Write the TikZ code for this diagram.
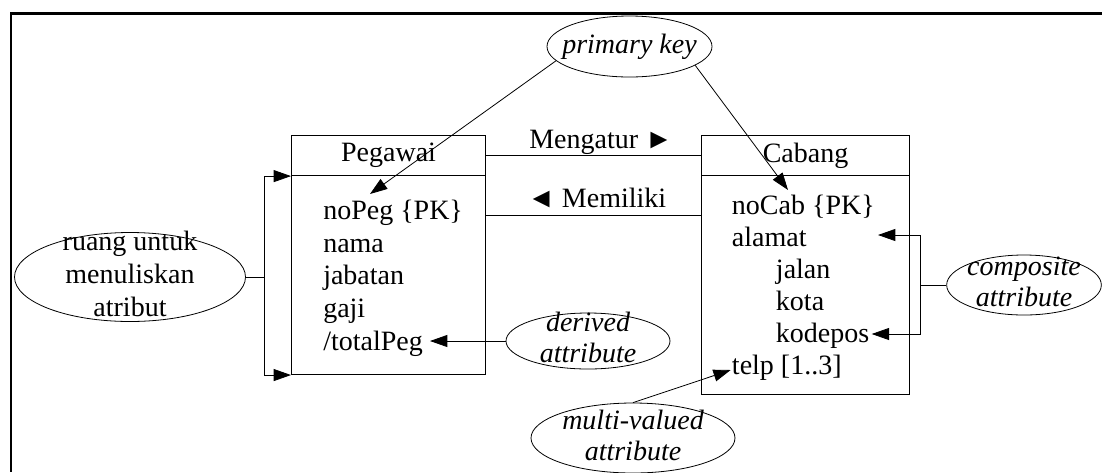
\documentclass[tikz,border=0pt]{standalone}
\usepackage{fontspec}
\setmainfont{Liberation Serif}
\usetikzlibrary{arrows.meta,shapes.geometric}

\begin{document}
\begin{tikzpicture}[x=0.75pt,y=-0.75pt,
  font=\fontsize{21pt}{24.6pt}\selectfont,
  box/.style={draw, line width=0.8pt, rectangle, inner sep=0pt, anchor=north west},
  attr/.style={anchor=base west, inner sep=0pt},
  note/.style={draw, ellipse, line width=0.6pt, inner sep=0pt},
  notetext/.style={align=center, inner sep=0pt,
    font=\fontsize{21pt}{23.2pt}\selectfont\itshape},
  plaintext/.style={align=center, inner sep=0pt,
    font=\fontsize{21pt}{24.75pt}\selectfont},
  link/.style={line width=0.6pt},
  rel/.style={line width=0.8pt},
  arr/.style={line width=0.6pt, -{Triangle[length=13pt,width=9pt]}},
]
\useasboundingbox (0,0) rectangle (1102,472);

% frame
\draw[line width=1.6pt] (1102,13.5) -- (11.2,13.5) -- (11.2,472);

% entity Pegawai
\node[box, minimum width=145.5pt, minimum height=179pt] (peg) at (291,135.3) {};
\node[box, minimum width=145.5pt, minimum height=29.8pt] (peghead) at (291,135.3) {Pegawai};
\node[attr] (noPeg)    at (323,219.3) {noPeg \{PK\}};
\node[attr] (nama)     at (323,252)   {nama};
\node[attr] (jabatan)  at (323,284.7) {jabatan};
\node[attr] (gaji)     at (323,317.3) {gaji};
\node[attr] (totalPeg) at (323,350)   {/totalPeg};

% entity Cabang
\node[box, minimum width=156.45pt, minimum height=194.25pt] (cab) at (700.7,135.3) {};
\node[box, minimum width=156.45pt, minimum height=29.8pt] (cabhead) at (700.7,135.3) {Cabang};
\node[attr] (noCab)   at (731.7,214) {noCab \{PK\}};
\node[attr] (alamat)  at (731.7,246) {alamat};
\node[attr] (jalan)   at (775.7,278) {jalan};
\node[attr] (kota)    at (775.7,310) {kota};
\node[attr] (kodepos) at (775.7,342) {kodepos};
\node[attr] (telp)    at (731.7,374) {telp [1..3]};

% relationships
\coordinate (memy) at (0,215.3);
\draw[rel] (peghead.east) -- (cabhead.west);
\draw[rel] (peg.east |- memy) -- (cab.west |- memy);
\node[attr] (mengatur) at (529,148) {Mengatur ►};
\node[attr] (memiliki) at (527,207) {◄ Memiliki};

% attribute compartment note
\node[note, minimum width=173.25pt, minimum height=66.75pt,
  label={[plaintext, yshift=2pt]center:ruang untuk\\menuliskan\\atribut}] (ruang) at (130,277) {};
\coordinate (lb) at (264,277);
\draw[link] (ruang.east) -- (lb);
\draw[arr] (lb) |- (peghead.south west);
\draw[arr] (lb) |- (peg.south west);

% primary key note
\node[note, minimum width=123.75pt, minimum height=45.75pt,
  label={[notetext]center:primary key}] (pk) at (629.5,46.5) {};
\coordinate (pegpk) at (370,194);
\coordinate (cabpk) at (788,190);
\draw[arr] (pk.191) -- (pegpk);
\draw[arr] (pk.344) -- (cabpk);

% derived attribute note
\node[note, minimum width=123pt, minimum height=42pt,
  label={[notetext, yshift=2.5pt]center:derived\\attribute}] (der) at (588,341) {};
\coordinate (totaltip) at (430,341);
\draw[arr] (der.west) -- (totaltip);

% multi-valued attribute note
\node[note, minimum width=153pt, minimum height=52.5pt,
  label={[notetext, yshift=2.2pt]center:multi-valued\\attribute}] (mv) at (633,438) {};
\coordinate (telptip) at (730.7,370);
\draw[arr] (mv.north) -- (telptip);

% composite attribute note
\node[note, minimum width=116pt, minimum height=45pt,
  label={[notetext, yshift=2pt]center:composite\\attribute}] (comp) at (1024,285) {};
\coordinate (cb) at (920,285);
\coordinate (alamattip) at (878,235);
\coordinate (kodepostip) at (871.7,334);
\draw[link] (comp.west) -- (cb);
\draw[arr] (cb) |- (alamattip);
\draw[arr] (cb) |- (kodepostip);
\end{tikzpicture}
\end{document}
